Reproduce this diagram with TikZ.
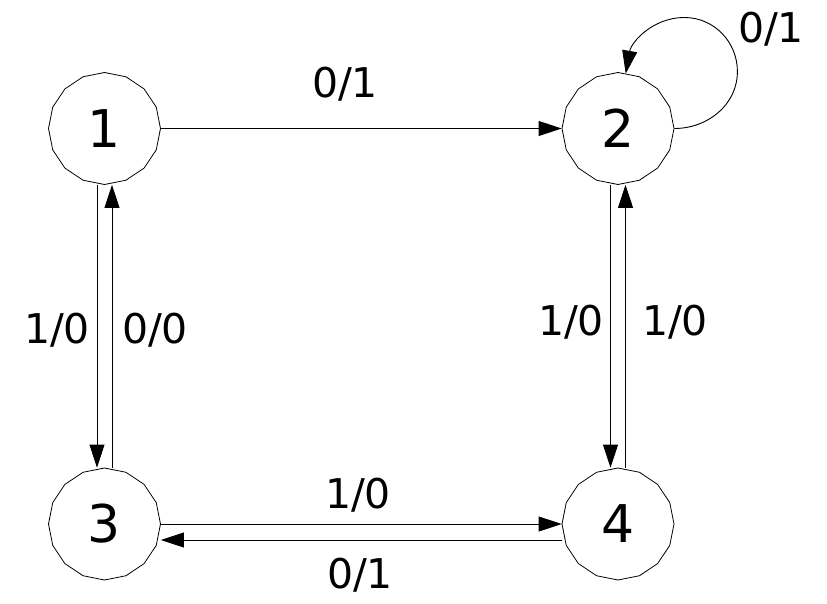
\documentclass[tikz,border=0pt]{standalone}
\usepackage{fontspec}
\setmainfont{DejaVu Sans}
\usetikzlibrary{shapes.geometric,arrows.meta}
\begin{document}
\begin{tikzpicture}[x=1pt,y=1pt,
  state/.style={draw, line width=0.8pt, regular polygon, regular polygon sides=16,
    shape border rotate=11.25, minimum size=112pt, inner sep=0pt,
    font=\fontsize{52}{52}\selectfont},
  arr/.style={line width=0.9pt, -{Triangle[length=23pt,width=15pt]}},
  lab/.style={anchor=base, inner sep=0pt, font=\fontsize{41}{41}\selectfont}]
\useasboundingbox (0,0) rectangle (827,-604);
\node[state] (n1) at (104.5,-128.5) {1};
\node[state] (n2) at (618,-128.5) {2};
\node[state] (n3) at (104.5,-524) {3};
\node[state] (n4) at (618,-524) {4};
% 1 -> 2
\draw[arr] (n1.east) -- (n2.west);
% self loop on 2
\draw[arr] (n2.east) to[out=0,in=-90] ++(63,57) to[out=90,in=0] ++(-53,54) to[out=180,in=80] (n2.82);
% 1 <-> 3
\draw[arr] ([xshift=-7.5pt]n1.south) -- ([xshift=-7.5pt]n3.north);
\draw[arr] ([xshift=7.5pt]n3.north) -- ([xshift=7.5pt]n1.south);
% 2 <-> 4
\draw[arr] ([xshift=-7.5pt]n2.south) -- ([xshift=-7.5pt]n4.north);
\draw[arr] ([xshift=7.5pt]n4.north) -- ([xshift=7.5pt]n2.south);
% 3 <-> 4
\draw[arr] (n3.east) -- (n4.west);
\draw[arr] ([yshift=-16pt]n4.west) -- ([yshift=-16pt]n3.east);
% labels
\node[lab] (l12) at (345,-98) {0/1};
\node[lab] (l22) at (771,-43) {0/1};
\node[lab] (l13) at (57,-343) {1/0};
\node[lab] (l31) at (155,-343) {0/0};
\node[lab] (l24) at (571,-335) {1/0};
\node[lab] (l42) at (675,-335) {1/0};
\node[lab] (l34) at (358,-508) {1/0};
\node[lab] (l43) at (360,-588) {0/1};
\end{tikzpicture}
\end{document}
